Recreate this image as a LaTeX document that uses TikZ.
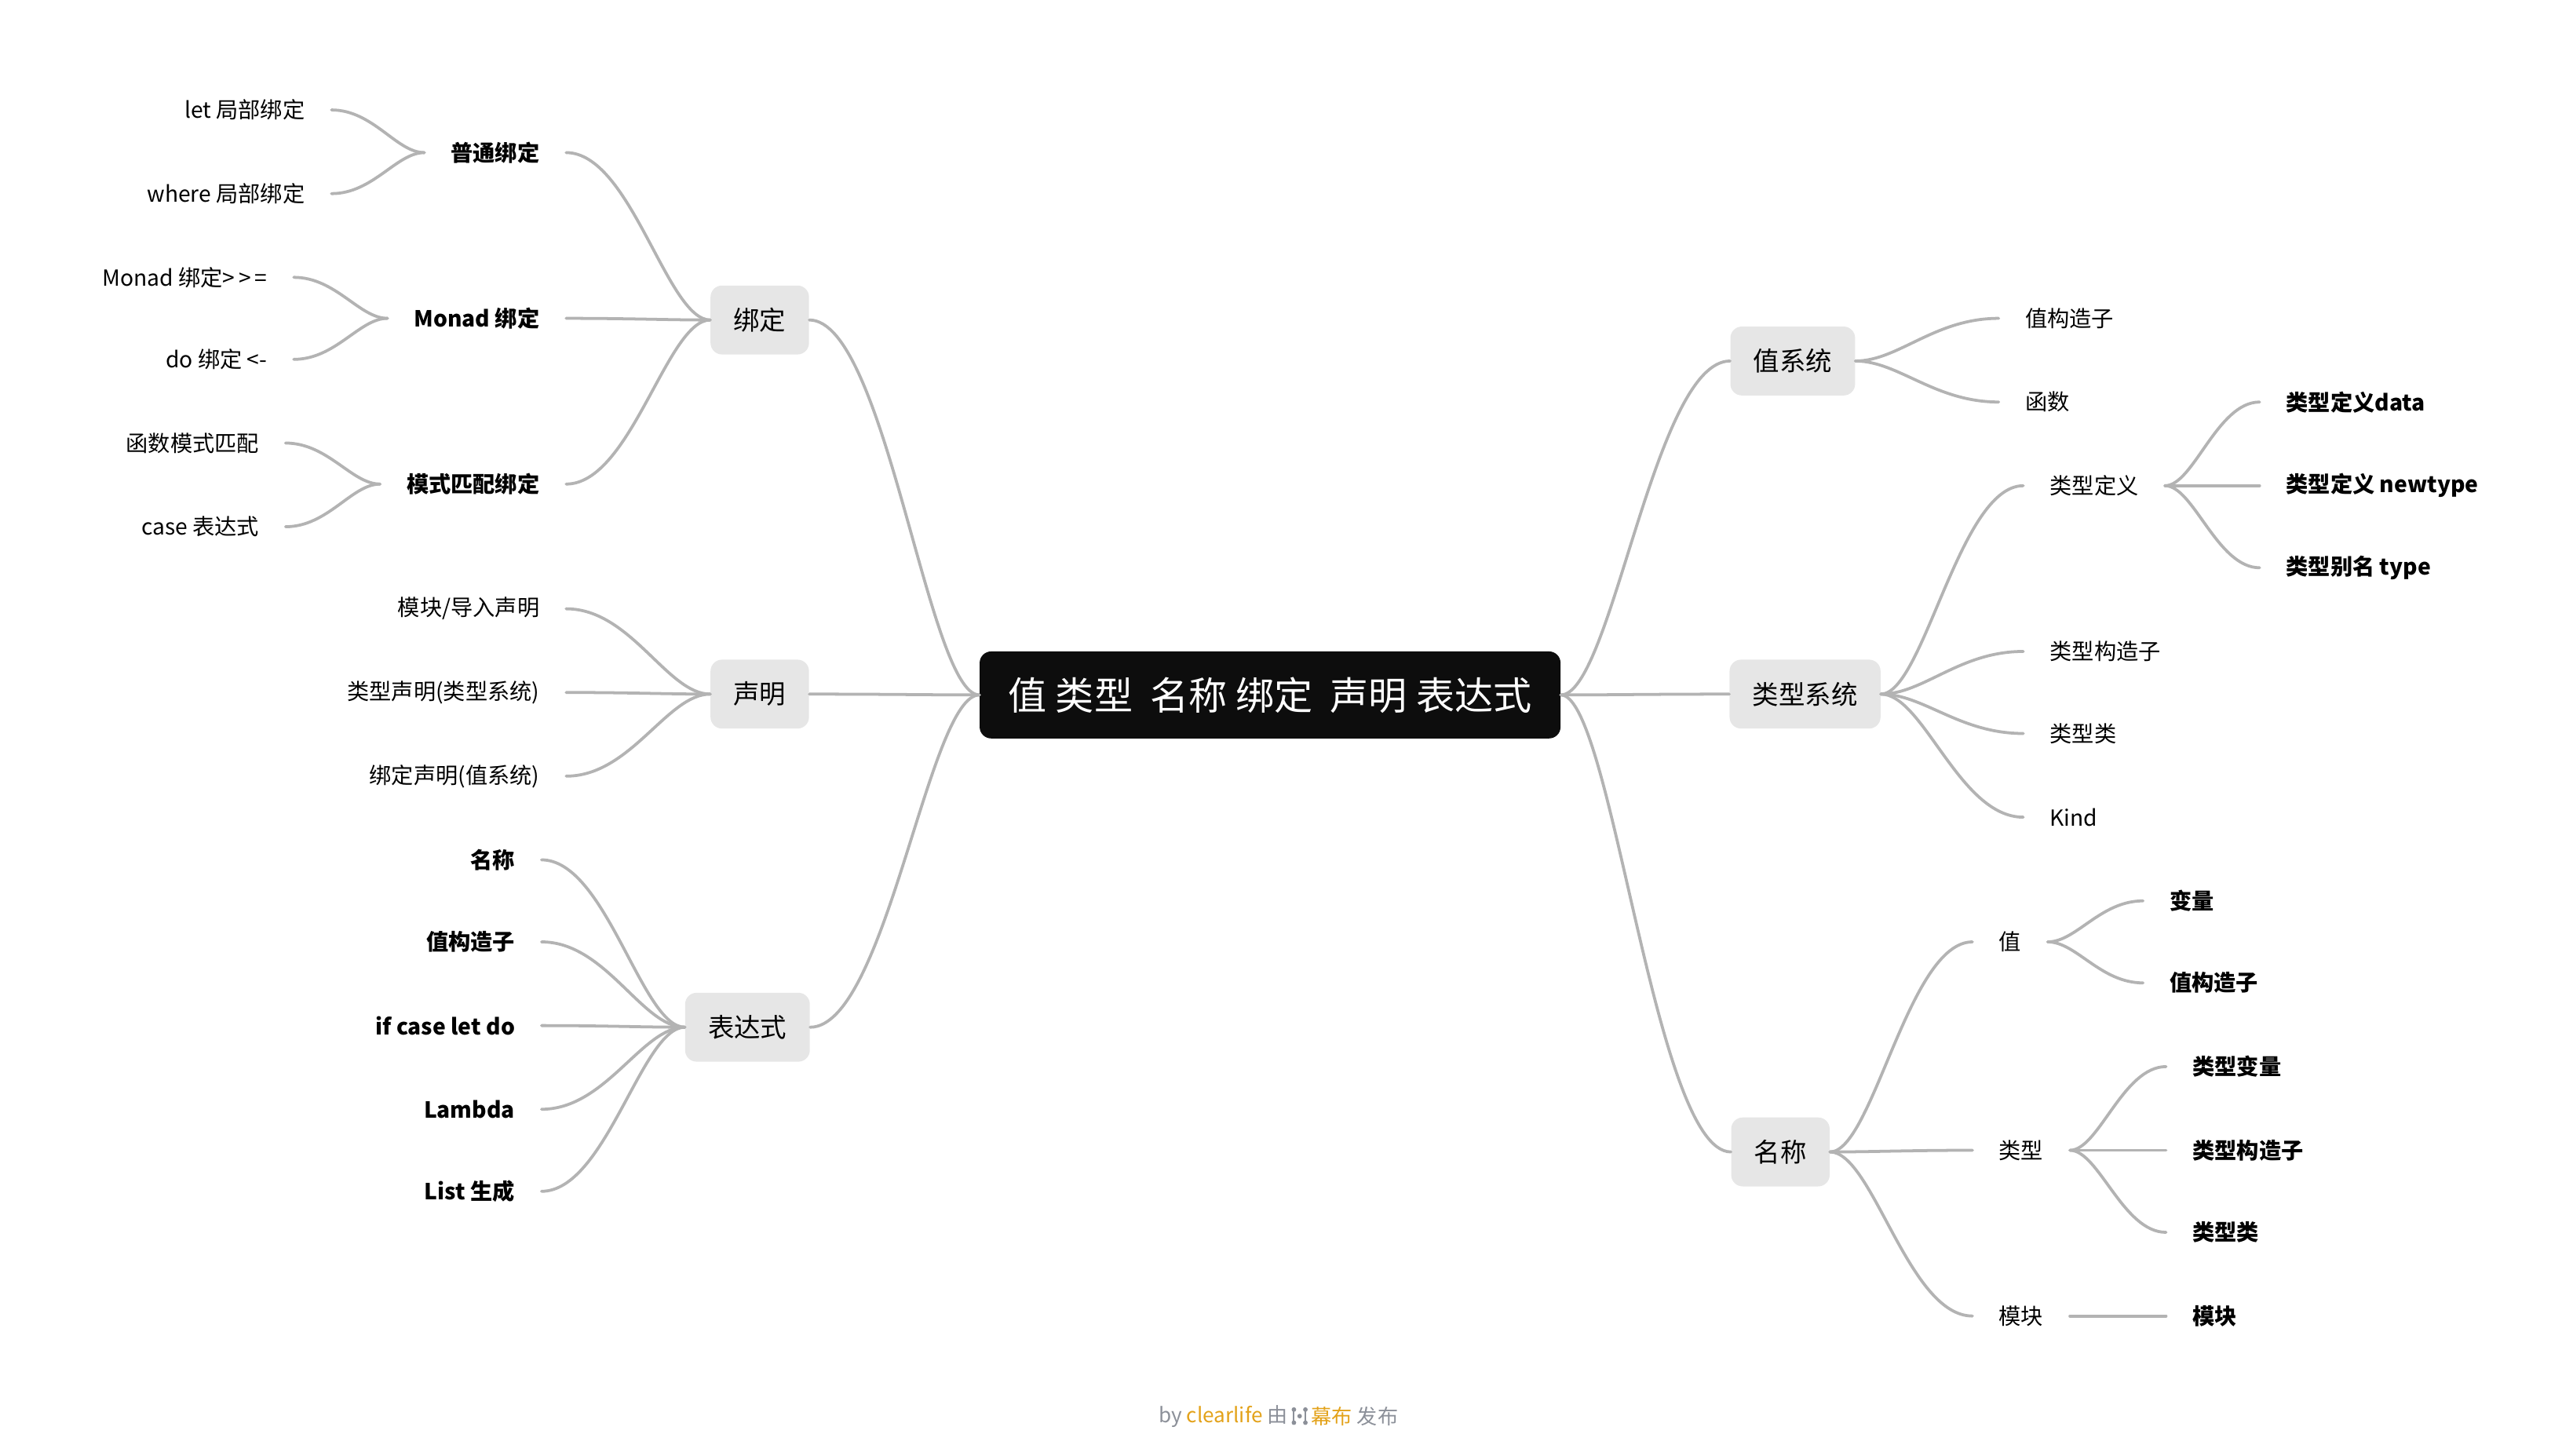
\documentclass[tikz,border=0pt]{standalone}
\usepackage{fontspec}
\setmainfont{Noto Sans CJK SC}
\usepackage{tikz}
\usetikzlibrary{calc}
\definecolor{linegray}{HTML}{B3B3B3}
\definecolor{boxgray}{HTML}{E6E6E6}
\definecolor{rootblack}{HTML}{0D0D0D}
\definecolor{mbgray}{HTML}{8C9099}
\definecolor{mborange}{HTML}{E3A21A}
\newcommand{\branch}[2]{\draw[link] (#1) .. controls ($(#1)!.3!(#1-|#2)$) and ($(#2)!.45!(#2-|#1)$) .. (#2);}

\begin{document}
\begin{tikzpicture}[x=1pt, y=-1pt,
		link/.style = {draw=linegray, line width=1.8pt, line cap=round},
		rootbox/.style = {fill=rootblack, text=white, rounded corners=7pt, minimum width=354pt, minimum height=53pt, font=\fontsize{23.5}{27}\selectfont},
		topic/.style = {fill=boxgray, rounded corners=7pt, inner xsep=14pt, minimum height=42pt, font=\fontsize{16}{19}\selectfont},
		item/.style = {inner xsep=16pt, inner ysep=0pt, font=\fontsize{13.5}{16}\selectfont},
		bolditem/.style = {item, font=\fontsize{13.5}{16}\selectfont\bfseries},
		foot/.style = {inner sep=0pt, text=mbgray, font=\fontsize{12.5}{15}\selectfont}]
		
		\useasboundingbox (0, 0) rectangle (1568, 887);
		
		\node[rootbox] (root) at (774, 423.5) {值 类型~ 名称 绑定~ 声明 表达式};
		
		\node[topic] (bind) at (463, 195) {绑定};
		\node[topic] (decl) at (463, 423) {声明};
		\node[topic] (expr) at (455.5, 626) {表达式};
		\node[topic] (valsys) at (1092.5, 220) {值系统};
		\node[topic] (typsys) at (1100, 423) {类型系统};
		\node[topic] (name) at (1085, 702) {名称};
		
		\node[bolditem, anchor=east] (plain) at (345, 93) {普通绑定};
		\node[bolditem, anchor=east] (monad) at (345, 194) {Monad 绑定};
		\node[bolditem, anchor=east] (pattern) at (345, 295) {模式匹配绑定};
		\node[item, anchor=east] (let) at (202, 67) {let 局部绑定};
		\node[item, anchor=east] (where) at (202, 118) {where 局部绑定};
		\node[item, anchor=east] (mbind) at (179, 169) {Monad 绑定>{}\,>{}\,=};
		\node[item, anchor=east] (mdo) at (179, 219) {do 绑定 <-};
		\node[item, anchor=east] (fpat) at (174, 270) {函数模式匹配};
		\node[item, anchor=east] (cexp) at (174, 321) {case 表达式};
		
		\node[item, anchor=east] (dmod) at (345, 371) {模块/导入声明};
		\node[item, anchor=east] (dtype) at (345, 422) {类型声明(类型系统)};
		\node[item, anchor=east] (dbind) at (345, 473) {绑定声明(值系统)};
		
		\node[bolditem, anchor=east] (ename) at (330, 524) {名称};
		\node[bolditem, anchor=east] (econ) at (330, 574) {值构造子};
		\node[bolditem, anchor=east] (eif) at (330, 625) {if case let do};
		\node[bolditem, anchor=east] (elam) at (330, 676) {Lambda};
		\node[bolditem, anchor=east] (elist) at (330, 726) {List 生成};
		
		\node[item, anchor=west] (vcon) at (1218, 194) {值构造子};
		\node[item, anchor=west] (vfun) at (1218, 245) {函数};
		
		\node[item, anchor=west] (tdef) at (1233, 296) {类型定义};
		\node[item, anchor=west] (tcon) at (1233, 397) {类型构造子};
		\node[item, anchor=west] (tcls) at (1233, 447) {类型类};
		\node[item, anchor=west] (tkind) at (1233, 498) {Kind};
		\node[bolditem, anchor=west] (tdata) at (1377, 245) {类型定义data};
		\node[bolditem, anchor=west] (tnew) at (1377, 296) {类型定义 newtype};
		\node[bolditem, anchor=west] (talias) at (1377, 346) {类型别名 type};
		
		\node[item, anchor=west] (nval) at (1202, 574) {值};
		\node[item, anchor=west] (ntype) at (1202, 701) {类型};
		\node[item, anchor=west] (nmod) at (1202, 802) {模块};
		\node[bolditem, anchor=west] (nvar) at (1306, 549) {变量};
		\node[bolditem, anchor=west] (nvcon) at (1306, 599) {值构造子};
		\node[bolditem, anchor=west] (ntvar) at (1320, 650) {类型变量};
		\node[bolditem, anchor=west] (ntcon) at (1320, 701) {类型构造子};
		\node[bolditem, anchor=west] (ntcls) at (1320, 751) {类型类};
		\node[bolditem, anchor=west] (nmmod) at (1320, 802) {模块};
		
		\branch{root.west}{bind.east}
		\branch{root.west}{decl.east}
		\branch{root.west}{expr.east}
		\branch{root.east}{valsys.west}
		\branch{root.east}{typsys.west}
		\branch{root.east}{name.west}
		
		\branch{bind.west}{plain.east}
		\branch{bind.west}{monad.east}
		\branch{bind.west}{pattern.east}
		\branch{plain.west}{let.east}
		\branch{plain.west}{where.east}
		\branch{monad.west}{mbind.east}
		\branch{monad.west}{mdo.east}
		\branch{pattern.west}{fpat.east}
		\branch{pattern.west}{cexp.east}
		
		\branch{decl.west}{dmod.east}
		\branch{decl.west}{dtype.east}
		\branch{decl.west}{dbind.east}
		
		\branch{expr.west}{ename.east}
		\branch{expr.west}{econ.east}
		\branch{expr.west}{eif.east}
		\branch{expr.west}{elam.east}
		\branch{expr.west}{elist.east}
		
		\branch{valsys.east}{vcon.west}
		\branch{valsys.east}{vfun.west}
		
		\branch{typsys.east}{tdef.west}
		\branch{typsys.east}{tcon.west}
		\branch{typsys.east}{tcls.west}
		\branch{typsys.east}{tkind.west}
		\branch{tdef.east}{tdata.west}
		\branch{tdef.east}{tnew.west}
		\branch{tdef.east}{talias.west}
		
		\branch{name.east}{nval.west}
		\branch{name.east}{ntype.west}
		\branch{name.east}{nmod.west}
		\branch{nval.east}{nvar.west}
		\branch{nval.east}{nvcon.west}
		\branch{ntype.east}{ntvar.west}
		\branch{ntype.east}{ntcon.west}
		\branch{ntype.east}{ntcls.west}
		\branch{nmod.east}{nmmod.west}
		
		\node[foot, anchor=east] (byline) at (785, 863) {by \textcolor{mborange}{clearlife} 由};
		\node[foot, anchor=west] (mubu) at (799, 863) {\textcolor{mborange}{幕布} 发布};
		\draw[mbgray, line width=1pt] (788.5, 859) -- (788.5, 867);
		\draw[mbgray, line width=1pt] (795.5, 859) -- (795.5, 867);
		\fill[mbgray] (788.5, 859) circle [radius = 1.4];
		\fill[mbgray] (788.5, 867) circle [radius = 1.4];
		\fill[mbgray] (792, 863) circle [radius = 1.4];
		\fill[mbgray] (795.5, 859) circle [radius = 1.4];
		\fill[mbgray] (795.5, 867) circle [radius = 1.4];
	\end{tikzpicture}
\end{document}
